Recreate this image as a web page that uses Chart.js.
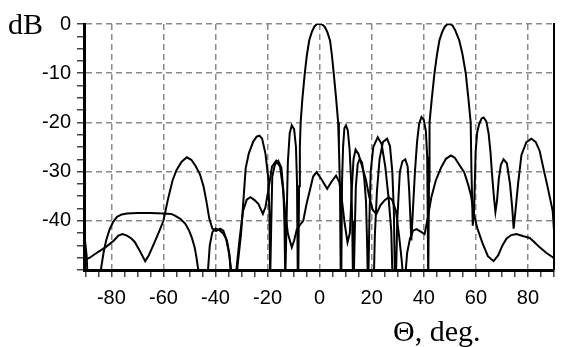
<!DOCTYPE html>
<html>
<head>
<meta charset="utf-8">
<title>Radiation pattern</title>
<script src="https://cdn.jsdelivr.net/npm/chart.js@4.4.1/dist/chart.umd.min.js"></script>
<style>
  html, body { margin: 0; padding: 0; background: #fff; }
  canvas { display: block; }
</style>
</head>
<body>
<canvas id="pattern" width="563" height="347"></canvas>
<script>
// ── DATA: [angle deg, level dB] ───────────────────────────────
// beam steered to 0 deg
const beam0 = [
  [-90.5, -60], [-44, -60],
  [-43.2, -52], [-42.8, -49.5], [-42.2, -45], [-41.2, -42.3], [-40, -41.6], [-38.5, -41.9], [-37, -42.6], [-35.6, -44], [-34.6, -47], [-34, -52],
  [-33, -60],
  [-31.9, -52], [-31.5, -49], [-30.2, -42.7], [-29.3, -36], [-28.4, -29.3], [-27.2, -26.3], [-25.5, -23.9], [-24.2, -22.9], [-23.1, -22.7], [-22.1, -23.3], [-20.8, -26.4], [-19.8, -31], [-19.3, -38], [-19, -52],
  [-18.9, -52], [-18.6, -41], [-18.2, -31], [-17.2, -28.6], [-15.9, -27.8], [-14.7, -29.2], [-13.9, -34], [-13.5, -41], [-13.2, -52],
  [-13.0, -52], [-12.7, -40], [-12.2, -28], [-11.5, -22.2], [-10.7, -20.6], [-9.8, -21.4], [-9.1, -25], [-8.7, -32], [-8.4, -52],
  [-8.2, -52], [-7.9, -33], [-7.6, -25], [-7.3, -20], [-6.6, -15], [-5.7, -10], [-4.9, -6.3], [-4, -3.3], [-3, -1.6], [-2, -0.5], [-1, 0],
  [0, 0], [1, -0.1], [2, -0.6], [3, -1.7], [4, -3.4], [4.7, -6.3], [5.4, -10], [6.3, -15], [7.1, -20], [7.4, -25], [7.8, -33], [8.1, -52],
  [8.3, -52], [8.6, -32], [9, -25], [9.5, -21.2], [10.1, -20.6], [10.8, -21.6], [11.5, -25.5], [12.1, -32], [12.5, -40], [12.8, -52],
  [13.1, -52], [13.5, -42], [13.9, -33], [14.6, -28.5], [15.4, -27.4], [16.3, -28.2], [17.1, -31.2], [17.8, -36], [18.2, -44], [18.5, -52],
  [18.7, -52], [19.1, -40], [19.6, -30], [20.6, -25], [22.3, -23], [23.8, -24.4], [25.2, -29], [26.5, -35.5], [27.5, -42], [28, -52],
  [29, -60], [90, -60],
];

// beam steered to 50 deg
const beam50 = [
  [-90.5, -44.8], [-90, -44.6], [-89.5, -47], [-89, -53], [-88, -60], [-85, -60],
  [-84.3, -53], [-83.9, -49.5], [-83, -46.5], [-82, -44], [-80.7, -41.8], [-79.3, -40.2], [-77.8, -39.2], [-76, -38.7], [-74, -38.5],
  [-70, -38.4], [-65, -38.4], [-60, -38.5], [-57, -38.6], [-55.4, -39], [-53.5, -39.6], [-51.6, -40.6], [-50.2, -41.9], [-49.1, -43.4],
  [-48, -45.4], [-47.3, -47.5], [-46.6, -50], [-46, -55], [-45, -60],
  [20, -60],
  [20.8, -52], [21.2, -43], [22, -34], [23, -27.5], [24.3, -24], [25.9, -23.3], [27, -24.8], [27.9, -30], [28.5, -38], [28.9, -52],
  [29.3, -52], [29.8, -40], [30.8, -30], [31.8, -27.9], [32.9, -27.5], [33.8, -29], [34.4, -34], [34.9, -40], [35.2, -44],
  [35.8, -38], [36.6, -30], [37.4, -24], [38.2, -20.3], [39.1, -18.9], [40, -19.5], [40.8, -21.8], [41.3, -27], [41.5, -38], [41.7, -52],
  [41.9, -52], [42, -32], [42.2, -20], [43.1, -15], [44.1, -10], [45.1, -6.1], [46, -3.3], [47, -1.7], [48, -0.6], [49, -0.05],
  [50, 0], [51, -0.3], [52, -1.2], [53, -2.5], [53.6, -3.3], [54.8, -6], [56.1, -10], [57.1, -15], [58, -20], [58.3, -30], [58.8, -41],
  [59.3, -38], [59.9, -26], [60.5, -22], [61.3, -20.3], [62.2, -19.2], [63, -19], [64, -19.8], [64.9, -22.3], [65.6, -26], [66.2, -30.5], [66.9, -35], [67.5, -38.2],
  [68.1, -36], [68.8, -31.5], [69.6, -28.6], [70.6, -27.5], [71.9, -28.3], [73.1, -32.5], [73.9, -37], [74.5, -41.6],
  [75.2, -38], [76.2, -32.5], [77.5, -26.6], [79.4, -24], [81.3, -23.3], [83, -24], [84.5, -25.8], [86, -29.5], [87.5, -33], [88.5, -35.5], [89.5, -38], [90, -42],
];

// low smooth curve
const envelope = [
  [-90.5, -48], [-88.3, -47.5], [-85, -46.3], [-82, -45.3], [-79, -44], [-77.3, -43], [-75.7, -42.7], [-74, -43], [-72.3, -43.6], [-71, -44.3],
  [-69, -46.2], [-67, -48.2], [-65.6, -47], [-63.5, -44.5], [-61.5, -42], [-60, -40], [-58.2, -35.5], [-56.5, -31.8], [-55, -29.7], [-53, -28],
  [-51, -27.1], [-49.3, -27.6], [-47.7, -28.8], [-46, -30.5], [-44.6, -33], [-43.5, -36], [-42.4, -39.5], [-41.2, -41.6], [-39.8, -42.1],
  [-38.2, -41.6], [-37, -42], [-36, -43.5], [-35, -46], [-34.2, -49], [-33.5, -53],
  [-32.5, -53], [-31.6, -48], [-30.6, -43], [-29.4, -38], [-28, -35.7], [-26.6, -35.2], [-25, -35.8], [-23.5, -36.6], [-21.8, -38.6],
  [-20.8, -37.2], [-19.6, -33.4], [-18.3, -29], [-16.7, -27.8], [-15.2, -29], [-14.2, -33], [-13.3, -38], [-12.2, -42.6], [-10.7, -45.4],
  [-9.8, -44], [-8.8, -41.8], [-7.5, -40.8], [-6.3, -40], [-5, -36.5], [-3.8, -33.9], [-2.5, -31], [-1.2, -30.1], [0.5, -31.4], [2.9, -33.5],
  [4.6, -32], [6.3, -30.8], [7.6, -32.2], [8.6, -36], [9.6, -40.5], [10.7, -44.4], [11.6, -42.5], [12.3, -34], [13, -27.5], [13.8, -25.5],
  [14.9, -26.4], [16.4, -29.1], [17.7, -31.5], [19, -35], [20.4, -37.8], [21.8, -38.6], [23.4, -36.8], [25, -35.8], [26.5, -35.2],
  [27.8, -35.7], [29.3, -38], [30.5, -43], [31.5, -48], [32.3, -53],
  [33, -50.5], [33.6, -46.5], [34.7, -43.6], [35.9, -42], [37.2, -41.7], [38.8, -42.2], [40.3, -42.7], [41.5, -39.5], [42.9, -35.2],
  [44.6, -31.8], [46.7, -29.1], [48.5, -27.4], [50.4, -26.7], [51.9, -27.2], [53.6, -28.6], [55.5, -30.1], [57, -32.6], [58.1, -34.8],
  [59.2, -38.5], [60.6, -41.6], [62.5, -44.5], [64.6, -47.2], [66.8, -48.2], [68.6, -47], [70.2, -45], [71.8, -43.6], [73.6, -42.9],
  [75.6, -42.7], [78, -43.1], [80.7, -43.5], [82.6, -44.4], [84.5, -45.4], [87, -46.5], [89.5, -47.4], [90, -47.6],
];

// ticks: minor every 5 deg / 2.5 dB, labels every 20 deg / 10 dB
const xTicks = [];
for (let a = -90; a <= 90; a += 5) xTicks.push(a);
const yTicks = [];
for (let d = -50; d <= 0; d += 2.5) yTicks.push(d);

const GRID = "#8a8a8a";
const TICK_FONT = { family: "'Liberation Sans', Arial, sans-serif", size: 20 };

// ── EXTRA DRAWING: right frame line + unit labels ─────────────
const frameLabels = {
  id: "frameLabels",
  afterDraw(chart) {
    const { ctx, chartArea } = chart;
    ctx.save();
    ctx.strokeStyle = "#000";
    ctx.lineWidth = 2;
    ctx.beginPath();
    ctx.moveTo(chartArea.right, chartArea.top - 1);
    ctx.lineTo(chartArea.right, chartArea.bottom);
    ctx.stroke();

    ctx.fillStyle = "#000";
    ctx.font = "30px 'Liberation Serif', 'Times New Roman', serif";
    ctx.textBaseline = "alphabetic";
    ctx.textAlign = "left";
    ctx.fillText("dB", 8, 34);
    ctx.fillText("\u0398, deg.", 393, 341);
    ctx.restore();
  },
};

function line(points) {
  return {
    data: points.map(([x, y]) => ({ x, y })),
    borderColor: "#000",
    borderWidth: 2,
    pointRadius: 0,
    tension: 0,
    fill: false,
  };
}

// ── CHART ─────────────────────────────────────────────────────
new Chart(document.getElementById("pattern").getContext("2d"), {
  type: "line",
  data: { datasets: [line(envelope), line(beam50), line(beam0)] },
  options: {
    responsive: false,
    animation: false,
    devicePixelRatio: 1,
    layout: { padding: { top: 24, right: 2, left: 0, bottom: 0 } },
    plugins: { legend: { display: false }, tooltip: { enabled: false } },
    scales: {
      x: {
        type: "linear",
        min: -90.5,
        max: 90,
        afterBuildTicks: (s) => { s.ticks = xTicks.map(v => ({ value: v })); },
        afterFit: (s) => { s.height = 77; },
        ticks: {
          autoSkip: false,
          maxRotation: 0,
          padding: 9,
          color: "#000",
          font: TICK_FONT,
          callback: (v) => (v % 20 === 0 ? String(v) : ""),
        },
        grid: {
          color: (c) => (c.tick && c.tick.value % 20 === 0 ? GRID : "rgba(0,0,0,0)"),
          lineWidth: 1.5,
          tickColor: "#444",
          tickWidth: 1.5,
          tickLength: 7,
        },
        border: { display: true, color: "#000", width: 3, dash: [6, 4] },
      },
      y: {
        min: -50,
        max: 0,
        afterBuildTicks: (s) => { s.ticks = yTicks.map(v => ({ value: v })); },
        afterFit: (s) => { s.width = 84; },
        ticks: {
          autoSkip: false,
          padding: 6,
          color: "#000",
          font: TICK_FONT,
          callback: (v) => (v % 10 === 0 && v > -50 ? String(v) : ""),
        },
        grid: {
          color: (c) => (c.tick && c.tick.value % 10 === 0 && c.tick.value > -50 ? GRID : "rgba(0,0,0,0)"),
          lineWidth: 1.5,
          tickColor: "#444",
          tickWidth: 1.5,
          tickLength: 7,
        },
        border: { display: true, color: "#000", width: 3, dash: [6, 4] },
      },
    },
  },
  plugins: [frameLabels],
});
</script>
</body>
</html>
